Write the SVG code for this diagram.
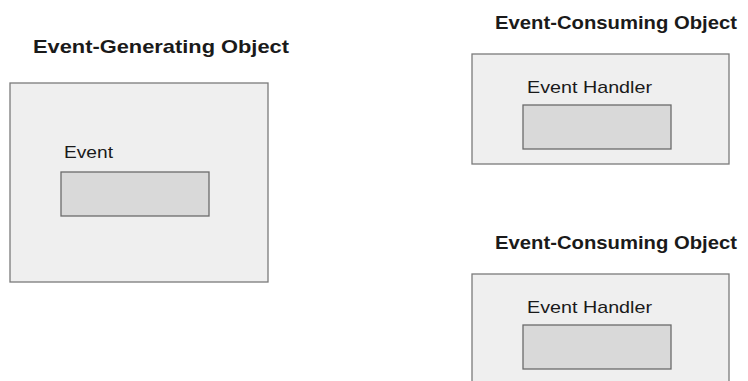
<svg xmlns="http://www.w3.org/2000/svg" width="748" height="381" viewBox="0 0 748 381">
  <style>
    .outer { fill: #efefef; stroke: #7a7a7a; stroke-width: 1.3; }
    .inner { fill: #d9d9d9; stroke: #6a6a6a; stroke-width: 1.3; }
    .title { font-family: "Liberation Sans", Arial, sans-serif; font-weight: bold; font-size: 19px; fill: #1a1a1a; }
    .label { font-family: "Liberation Sans", Arial, sans-serif; font-size: 17px; fill: #1a1a1a; }
  </style>
  <rect width="748" height="381" fill="#ffffff"/>

  <!-- generating side -->
  <g id="event-generating-object">
    <text class="title" x="33" y="53" textLength="256" lengthAdjust="spacingAndGlyphs">Event-Generating Object</text>
    <rect class="outer" x="10" y="83" width="258" height="199"/>
    <g id="event">
      <text class="label" x="64" y="158" textLength="49" lengthAdjust="spacingAndGlyphs">Event</text>
      <rect class="inner" x="61" y="172" width="148" height="44"/>
    </g>
  </g>

  <!-- first consumer -->
  <g id="event-consuming-object-1">
    <text class="title" x="495" y="29" textLength="242" lengthAdjust="spacingAndGlyphs">Event-Consuming Object</text>
    <rect class="outer" x="472" y="54" width="257" height="110"/>
    <g id="event-handler-1">
      <text class="label" x="527" y="93" textLength="125" lengthAdjust="spacingAndGlyphs">Event Handler</text>
      <rect class="inner" x="523" y="105" width="148" height="44"/>
    </g>
  </g>

  <!-- second consumer, runs off the bottom edge -->
  <g id="event-consuming-object-2">
    <text class="title" x="495" y="249" textLength="242" lengthAdjust="spacingAndGlyphs">Event-Consuming Object</text>
    <rect class="outer" x="472" y="274" width="257" height="120"/>
    <g id="event-handler-2">
      <text class="label" x="527" y="313" textLength="125" lengthAdjust="spacingAndGlyphs">Event Handler</text>
      <rect class="inner" x="523" y="325" width="148" height="44"/>
    </g>
  </g>

  <g id="connectors"/>
</svg>
